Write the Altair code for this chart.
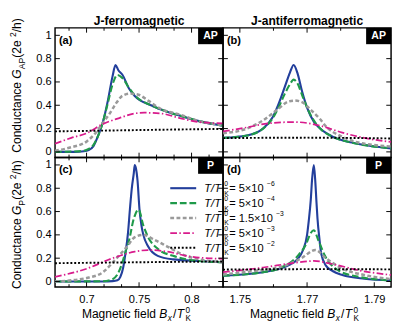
import altair as alt
import pandas as pd

FONT = "Liberation Sans"
W, H = 175, 135
YDOM = [-0.048, 1.064]
XDOM_FM = [0.67, 0.83]
XDOM_AFM = [1.745, 1.795]

# ---------------- tick values / labels ----------------
Y_MAJOR = [0, 0.2, 0.4, 0.6, 0.8, 1.0]
FM_X_MAJOR = [0.7, 0.75, 0.8]
FM_X_MINOR = [0.68333, 0.71667, 0.73333, 0.76667, 0.78333, 0.81667]
AFM_X_MAJOR = [1.75, 1.77, 1.79]
AFM_X_MINOR = [1.76, 1.78]
LEG_NUM = ["5", "5", "1.5", "5", "5"]
LEG_EXP = ["\u22126", "\u22124", "\u22123", "\u22123", "\u22122"]

# ---------------- panel (a): J-ferromagnetic, AP ----------------
A_BLUE_X = [0.670, 0.6883, 0.6974, 0.7020, 0.7066, 0.7111, 0.7157, 0.7203, 0.7248, 0.7276, 0.7303, 0.7340, 0.7404, 0.7459, 0.7614, 0.7769, 0.7916, 0.8071, 0.830]
A_BLUE_Y = [0.0, 0.0, 0.005, 0.015, 0.05, 0.14, 0.26, 0.44, 0.65, 0.745, 0.70, 0.664, 0.544, 0.48, 0.40, 0.344, 0.304, 0.264, 0.225]
A_GREEN_X = [0.670, 0.6883, 0.6974, 0.7020, 0.7066, 0.7111, 0.7157, 0.7203, 0.7248, 0.7294, 0.7340, 0.7404, 0.7459, 0.7614, 0.7769, 0.7916, 0.8071, 0.830]
A_GREEN_Y = [0.0, 0.003, 0.01, 0.025, 0.06, 0.14, 0.26, 0.42, 0.58, 0.66, 0.635, 0.55, 0.485, 0.40, 0.344, 0.304, 0.264, 0.225]
A_GRAY_X = [0.670, 0.6855, 0.7002, 0.7084, 0.7157, 0.7221, 0.7276, 0.7340, 0.7413, 0.7495, 0.7587, 0.7705, 0.7888, 0.8071, 0.830]
A_GRAY_Y = [0.01, 0.04, 0.09, 0.16, 0.25, 0.33, 0.41, 0.48, 0.50, 0.49, 0.44, 0.37, 0.32, 0.264, 0.23]
A_PINK_X = [0.670, 0.6855, 0.7002, 0.7157, 0.7312, 0.7459, 0.7550, 0.7705, 0.7888, 0.8071, 0.830]
A_PINK_Y = [0.07, 0.12, 0.16, 0.24, 0.29, 0.33, 0.336, 0.33, 0.29, 0.256, 0.245]
A_BLACK_X = [0.67, 0.72, 0.77, 0.83]
A_BLACK_Y = [0.176, 0.183, 0.19, 0.197]

# ---------------- panel (b): J-antiferromagnetic, AP ----------------
B_BLUE_X = [1.7450, 1.7521, 1.7569, 1.7598, 1.7615, 1.7634, 1.7649, 1.7660, 1.7671, 1.7685, 1.7700, 1.7720, 1.7739, 1.7776, 1.7833, 1.7890, 1.795]
B_BLUE_Y = [0.12, 0.14, 0.20, 0.30, 0.41, 0.56, 0.68, 0.745, 0.68, 0.52, 0.38, 0.26, 0.20, 0.13, 0.08, 0.05, 0.03]
B_GREEN_X = [1.7450, 1.7521, 1.7569, 1.7598, 1.7615, 1.7634, 1.7649, 1.7660, 1.7671, 1.7685, 1.7700, 1.7720, 1.7739, 1.7776, 1.7833, 1.7890, 1.795]
B_GREEN_Y = [0.12, 0.14, 0.20, 0.29, 0.38, 0.50, 0.58, 0.62, 0.59, 0.49, 0.38, 0.27, 0.20, 0.13, 0.08, 0.05, 0.03]
B_GRAY_X = [1.7450, 1.7521, 1.7569, 1.7615, 1.7643, 1.7663, 1.7683, 1.7711, 1.7739, 1.7756, 1.7805, 1.7853, 1.7898, 1.795]
B_GRAY_Y = [0.16, 0.20, 0.27, 0.37, 0.43, 0.44, 0.43, 0.36, 0.28, 0.22, 0.13, 0.08, 0.06, 0.045]
B_PINK_X = [1.7450, 1.7521, 1.7586, 1.7663, 1.7739, 1.7805, 1.7870, 1.795]
B_PINK_Y = [0.176, 0.21, 0.245, 0.256, 0.225, 0.165, 0.12, 0.085]
B_BLACK_X = [1.745, 1.77, 1.795]
B_BLACK_Y = [0.118, 0.122, 0.115]

# ---------------- panel (c): J-ferromagnetic, P ----------------
C_BLUE_X = [0.670, 0.7157, 0.7248, 0.7294, 0.7322, 0.7349, 0.7367, 0.7395, 0.7413, 0.7431, 0.7450, 0.7459, 0.7468, 0.7486, 0.7504, 0.7523, 0.7541, 0.7587, 0.7678, 0.7824, 0.8071, 0.830]
C_BLUE_Y = [0.0, 0.0, 0.003, 0.01, 0.04, 0.12, 0.22, 0.42, 0.62, 0.80, 0.93, 1.0, 0.98, 0.86, 0.62, 0.48, 0.40, 0.30, 0.22, 0.19, 0.176, 0.165]
C_GREEN_X = [0.670, 0.7157, 0.7248, 0.7294, 0.7340, 0.7376, 0.7404, 0.7450, 0.7495, 0.7541, 0.7587, 0.7678, 0.7824, 0.8071, 0.830]
C_GREEN_Y = [0.0, 0.002, 0.02, 0.06, 0.16, 0.27, 0.35, 0.54, 0.616, 0.48, 0.38, 0.28, 0.22, 0.176, 0.165]
C_GRAY_X = [0.670, 0.7002, 0.7157, 0.7276, 0.7386, 0.7459, 0.7541, 0.7641, 0.7769, 0.7916, 0.8071, 0.830]
C_GRAY_Y = [0.0, 0.03, 0.08, 0.19, 0.30, 0.38, 0.40, 0.36, 0.30, 0.23, 0.19, 0.165]
C_PINK_X = [0.670, 0.7002, 0.7248, 0.7459, 0.7587, 0.7769, 0.7952, 0.8071, 0.830]
C_PINK_Y = [0.04, 0.11, 0.20, 0.256, 0.27, 0.256, 0.22, 0.205, 0.195]
C_BLACK_X = [0.67, 0.75, 0.83]
C_BLACK_Y = [0.157, 0.165, 0.172]

# ---------------- panel (d): J-antiferromagnetic, P ----------------
D_BLUE_X = [1.7450, 1.7569, 1.7643, 1.7671, 1.7688, 1.7700, 1.7705, 1.7711, 1.7715, 1.7720, 1.7724, 1.7728, 1.7731, 1.7737, 1.7742, 1.7756, 1.7776, 1.7805, 1.7870, 1.795]
D_BLUE_Y = [0.05, 0.08, 0.136, 0.19, 0.27, 0.40, 0.52, 0.70, 0.88, 1.0, 0.88, 0.68, 0.54, 0.36, 0.24, 0.136, 0.09, 0.056, 0.024, 0.01]
D_GREEN_X = [1.7450, 1.7569, 1.7615, 1.7671, 1.7697, 1.7711, 1.7720, 1.7734, 1.7754, 1.7785, 1.7853, 1.795]
D_GREEN_Y = [0.05, 0.08, 0.11, 0.216, 0.32, 0.416, 0.44, 0.35, 0.216, 0.11, 0.04, 0.01]
D_GRAY_X = [1.7450, 1.7569, 1.7615, 1.7683, 1.7725, 1.7756, 1.7805, 1.7870, 1.795]
D_GRAY_Y = [0.06, 0.10, 0.12, 0.20, 0.27, 0.20, 0.11, 0.056, 0.02]
D_PINK_X = [1.7450, 1.7569, 1.7663, 1.7720, 1.7776, 1.7853, 1.795]
D_PINK_Y = [0.08, 0.12, 0.16, 0.176, 0.15, 0.096, 0.056]
D_BLACK_X = [1.745, 1.772, 1.795]
D_BLACK_Y = [0.102, 0.106, 0.104]

SERIES = ["blue", "green", "gray", "pink", "black"]
STYLE = {
    "blue": dict(color="#233f9c", strokeWidth=2.2),
    "green": dict(color="#1f9a4a", strokeWidth=2.2, strokeDash=[7, 3]),
    "gray": dict(color="#9a9a9a", strokeWidth=2.6, strokeDash=[4, 2.5]),
    "pink": dict(color="#d81b8c", strokeWidth=1.8, strokeDash=[7, 2.5, 1.5, 2.5]),
    "black": dict(color="#000000", strokeWidth=2.0, strokeDash=[2, 2]),
}

# ---------------- text helpers ----------------
CW = {' ': 278, '(': 333, ')': 333, '-': 333, '.': 278, '/': 278, '=': 584, '\u00d7': 584, '\u2212': 584,
      'A': 667, 'B': 667, 'C': 722, 'G': 778, 'J': 500, 'K': 667, 'M': 833, 'P': 667, 'T': 611,
      'a': 556, 'c': 500, 'd': 556, 'e': 556, 'f': 278, 'g': 556, 'h': 556, 'i': 222, 'l': 222,
      'm': 833, 'n': 556, 'o': 556, 'r': 333, 't': 278, 'u': 556, 'x': 500}


def tw(s, size):
    return sum(CW.get(c, 556) for c in s) * size / 1000.0


DUMMY = pd.DataFrame({"d": [0]})


def txt(s, x, y, size, style="normal", weight="normal", angle=0, color="black",
        align="left", baseline="alphabetic"):
    return alt.Chart(DUMMY).mark_text(
        text=s, font=FONT, fontSize=size, fontStyle=style, fontWeight=weight,
        angle=angle, color=color, align=align, baseline=baseline
    ).encode(x=alt.value(x), y=alt.value(y))


def hpieces(pieces, x0, y0, size, small, sub_dy, sup_dy):
    """pieces: (text, kind, extra_gap); kind r/i/sub/isub/sup/sup0"""
    out = []
    x = x0
    for s, kind, gap in pieces:
        if kind in ("sub", "isub"):
            sz, dy = small, sub_dy
        elif kind in ("sup", "sup0"):
            sz, dy = small, sup_dy
        else:
            sz, dy = size, 0
        style = "italic" if kind in ("i", "isub") else "normal"
        out.append(txt(s, x, y0 + dy, sz, style=style))
        if kind != "sup0":
            x += tw(s, sz) + gap
    return out


def vpieces(pieces, bx, y0, size, small, sub_dx, sup_dx):
    out = []
    y = y0
    for s, kind in pieces:
        if kind == "sub":
            sz, dx = small, sub_dx
        elif kind == "sup":
            sz, dx = small, sup_dx
        else:
            sz, dx = size, 0
        style = "italic" if kind == "i" else "normal"
        out.append(txt(s, bx + dx, y, sz, style=style, angle=270))
        y -= tw(s, sz)
    return out


def xtitle():
    return hpieces([("Magnetic field ", "r", 0), ("B", "i", 0.5), ("x", "isub", 1.2),
                    ("/", "r", 0.5), ("T", "i", 1.5), ("0", "sup0", 0), ("K", "sub", 0)],
                   28, H + 32, 12.5, 8.5, 3.5, -5.5)


def ytitle(sub, y0):
    return vpieces([("Conductance ", "r"), ("G", "i"), (sub, "sub"), (" (2e", "r"),
                    ("2", "sup"), ("/h)", "r")], -35, y0, 12.5, 9, 3.5, -5.5)


def legend():
    out = []
    rows = [32, 47.6, 63, 78.7, 94]
    for name, yy, num, ex in zip(SERIES, rows, LEG_NUM, LEG_EXP):
        out.append(alt.Chart(DUMMY).mark_rule(**STYLE[name]).encode(
            x=alt.value(120), x2=alt.value(147), y=alt.value(yy)))
        out += hpieces([("T/T", "i", 3.5), ("0", "sup0", 0), ("K", "sub", 0.5),
                        (" = " + num + "\u00d710", "r", 0.3), (ex, "sup", 0)],
                       155.5, yy + 4, 11.5, 7, 3.8, -6.2)
    return out


def panel(data, xdom, xmaj, xmin, xlab, ylab, letter, box, title=None, extra=()):
    xs = alt.Scale(domain=xdom, nice=False, zero=False)
    ys = alt.Scale(domain=YDOM, nice=False, zero=False)
    if xlab:
        xaxis = alt.Axis(values=xmaj, format="~g", ticks=False, domain=False, grid=False,
                         labelFont=FONT, labelFontSize=11.5, labelColor="black",
                         labelPadding=7, labelOverlap=False)
    else:
        xaxis = None
    if ylab:
        yaxis = alt.Axis(values=Y_MAJOR, format="~g", ticks=False, domain=False, grid=False,
                         labelFont=FONT, labelFontSize=11.5, labelColor="black",
                         labelPadding=4, labelOverlap=False)
    else:
        yaxis = None
    x_enc = alt.X("x:Q", scale=xs, axis=xaxis, title=None)
    y_enc = alt.Y("y:Q", scale=ys, axis=yaxis, title=None)

    layers = []
    for name in SERIES:
        xv, yv = data[name]
        df = pd.DataFrame({"x": xv, "y": yv})
        layers.append(alt.Chart(df).mark_line(interpolate="monotone", clip=True,
                                              **STYLE[name]).encode(x=x_enc, y=y_enc))
    # inward mirrored ticks
    for vals, ln in ((xmaj, 5), (xmin, 3)):
        df = pd.DataFrame({"x": vals})
        layers.append(alt.Chart(df).mark_rule(color="black", strokeWidth=1).encode(
            x=x_enc, y=alt.value(H), y2=alt.value(H - ln)))
        layers.append(alt.Chart(df).mark_rule(color="black", strokeWidth=1).encode(
            x=x_enc, y=alt.value(0), y2=alt.value(ln)))
    dfy = pd.DataFrame({"y": Y_MAJOR})
    layers.append(alt.Chart(dfy).mark_rule(color="black", strokeWidth=1).encode(
        y=y_enc, x=alt.value(0), x2=alt.value(5)))
    layers.append(alt.Chart(dfy).mark_rule(color="black", strokeWidth=1).encode(
        y=y_enc, x=alt.value(W - 5), x2=alt.value(W)))
    # label box + letter
    layers.append(alt.Chart(DUMMY).mark_rect(color="black").encode(
        x=alt.value(W - 26), x2=alt.value(W), y=alt.value(0), y2=alt.value(17)))
    layers.append(txt(box, W - 13, 9, 11, weight="bold", color="white",
                      align="center", baseline="middle"))
    layers.append(txt(letter, 4, 16.5, 11.5, weight="bold"))
    if title:
        layers.append(txt(title, W / 2, -3, 12.5, weight="bold", align="center"))
    layers += list(extra)
    return alt.layer(*layers).properties(width=W, height=H)


def series(prefix):
    g = globals()
    return {n: (g[f"{prefix}_{n.upper()}_X"], g[f"{prefix}_{n.upper()}_Y"]) for n in SERIES}


pa = panel(series("A"), XDOM_FM, FM_X_MAJOR, FM_X_MINOR, False, True, "(a)", "AP",
           title="J-ferromagnetic", extra=ytitle("AP", 130))
pb = panel(series("B"), XDOM_AFM, AFM_X_MAJOR, AFM_X_MINOR, False, False, "(b)", "AP",
           title="J-antiferromagnetic")
pc = panel(series("C"), XDOM_FM, FM_X_MAJOR, FM_X_MINOR, True, True, "(c)", "P",
           extra=ytitle("P", 137) + xtitle() + legend())
pd_ = panel(series("D"), XDOM_AFM, AFM_X_MAJOR, AFM_X_MINOR, True, False, "(d)", "P",
            extra=xtitle())

chart = alt.concat(pa, pb, pc, pd_, columns=2, spacing=0, bounds="flush").configure_view(
    stroke="black", strokeWidth=1.5
).properties(padding=0, background="white")

chart.save("out.html", embed_options={"renderer": "svg", "actions": False})
